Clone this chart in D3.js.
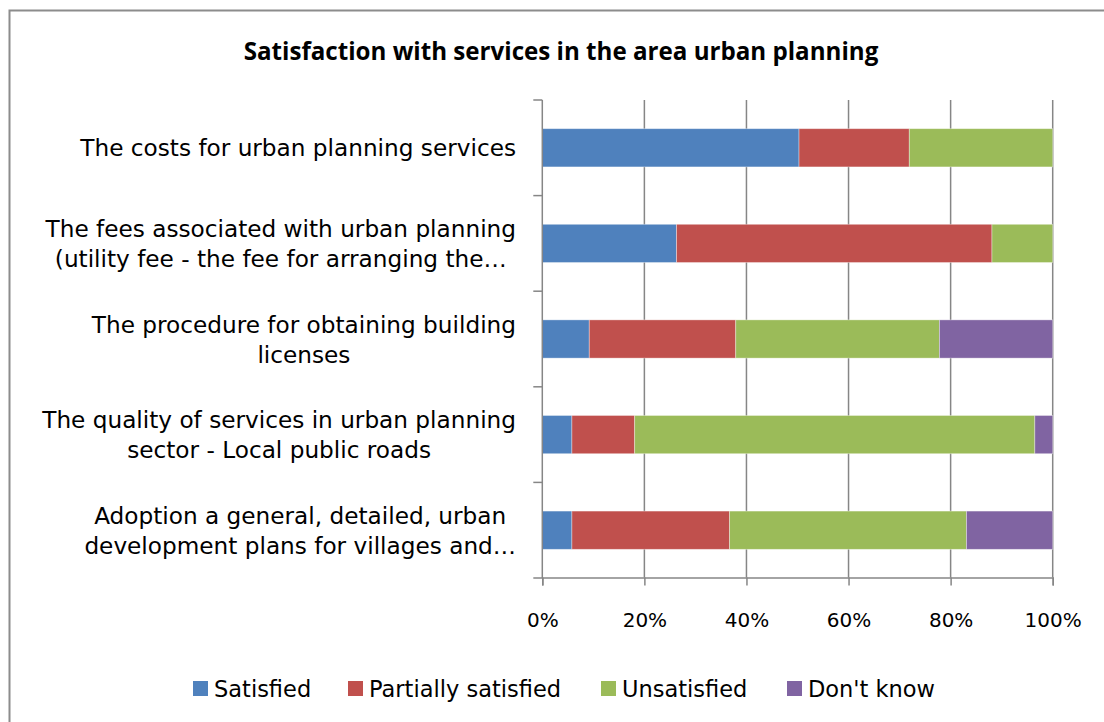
<!DOCTYPE html>
<html>
<head>
<meta charset="utf-8">
<script src="https://cdn.jsdelivr.net/npm/d3@7/dist/d3.min.js"></script>
<style>
  html, body { margin: 0; padding: 0; background: #fff; }
  svg { display: block; }
</style>
</head>
<body>
<svg id="chart" width="1104" height="722"></svg>
<script>
const title = "Satisfaction with services in the area urban planning";
const categories = [
  "The costs for urban planning services",
  "The fees associated with urban planning\n(utility fee - the fee for arranging the…",
  "The procedure for obtaining building\nlicenses",
  "The quality of services in urban planning\nsector - Local public roads",
  "Adoption a general, detailed, urban\ndevelopment plans for villages and…"
];
const seriesNames = ["Satisfied", "Partially satisfied", "Unsatisfied", "Don't know"];
const seriesColors = ["#4F81BD", "#C0504D", "#9BBB59", "#8064A2"];
const satisfied   = [50.3, 26.3, 9.2, 5.8, 5.8];
const partially   = [21.6, 61.8, 28.7, 12.3, 30.9];
const unsatisfied = [28.1, 11.9, 39.9, 78.4, 46.4];
const dontKnow    = [0, 0, 22.2, 3.5, 16.9];
const xTicks = [0, 20, 40, 60, 80, 100];
const xTickLabels = ["0%", "20%", "40%", "60%", "80%", "100%"];

const svg = d3.select("#chart");
const axisColor = "#868686";
const font = "'DejaVu Sans', Verdana, sans-serif";

// outer frame
svg.append("rect")
  .attr("x", 9.5).attr("y", 10.5).attr("width", 1200).attr("height", 800)
  .attr("fill", "none").attr("stroke", "#8c8c8c").attr("stroke-width", 2);

const x = d3.scaleLinear().domain([0, 100]).range([542.3, 1052.7]);
const y = d3.scaleBand().domain(categories).range([100, 578]).paddingInner(0.6).paddingOuter(0.3);

// title
const t = svg.append("text")
  .attr("x", 561).attr("y", 60)
  .attr("text-anchor", "middle")
  .attr("font-family", "'Liberation Sans Narrow', 'Open Sans', sans-serif")
  .attr("font-weight", "bold")
  .attr("font-size", 22)
  .attr("fill", "#000")
  .text(title);
{
  const w = t.node().getComputedTextLength();
  t.attr("font-size", 22 * 635 / w);
}

// gridlines
svg.append("g").selectAll("line")
  .data(xTicks.filter(d => d > 0))
  .join("line")
  .attr("x1", d => x(d)).attr("x2", d => x(d))
  .attr("y1", 100).attr("y2", 577.5)
  .attr("stroke", axisColor).attr("stroke-width", 1.5);

// stacked data
const rows = categories.map((c, i) => ({
  cat: c,
  "Satisfied": satisfied[i],
  "Partially satisfied": partially[i],
  "Unsatisfied": unsatisfied[i],
  "Don't know": dontKnow[i]
}));
const stacked = d3.stack().keys(seriesNames)(rows);

svg.append("g").selectAll("g")
  .data(stacked)
  .join("g")
  .attr("fill", (d, i) => seriesColors[i])
  .selectAll("rect")
  .data(d => d.filter(p => p[1] - p[0] > 0))
  .join("rect")
  .attr("x", d => x(d[0]))
  .attr("width", d => x(d[1]) - x(d[0]))
  .attr("y", d => y(d.data.cat))
  .attr("height", y.bandwidth())
  .attr("stroke", "rgba(255,255,255,0.45)")
  .attr("stroke-width", 0.8);

// y axis
const yAxis = svg.append("g").attr("stroke", axisColor).attr("stroke-width", 1.5);
yAxis.append("line").attr("x1", x(0)).attr("x2", x(0)).attr("y1", 100).attr("y2", 578);
const bounds = categories.map(c => y(c) - y.step() * y.paddingInner() / 2).concat([578]);
bounds[0] = 100;
yAxis.selectAll("line.tk").data(bounds).join("line").attr("class", "tk")
  .attr("x1", x(0) - 9).attr("x2", x(0)).attr("y1", d => d).attr("y2", d => d);

// x axis
const xAxisG = svg.append("g").attr("transform", "translate(0,577.5)")
  .call(d3.axisBottom(x).tickValues(xTicks).tickFormat((d, i) => xTickLabels[i]).tickSize(8).tickPadding(35));
xAxisG.select(".domain").attr("stroke", axisColor).attr("stroke-width", 1.5);
xAxisG.selectAll(".tick line").attr("stroke", axisColor).attr("stroke-width", 1.5);
xAxisG.selectAll(".tick text").attr("font-family", font).attr("font-size", 20).attr("fill", "#000")
  .attr("dy", "0.32em");

// category labels
const labG = svg.append("g").attr("font-family", font).attr("font-size", 23.2).attr("fill", "#000");
categories.forEach(c => {
  const lines = c.split("\n");
  const txt = labG.append("text").attr("text-anchor", "middle");
  const cy = y(c) + y.bandwidth() / 2;
  lines.forEach((ln, i) => {
    txt.append("tspan").attr("x", 0)
      .attr("y", cy + 8.5 + (i - (lines.length - 1) / 2) * 30)
      .text(ln);
  });
  let maxW = 0;
  txt.selectAll("tspan").each(function() { maxW = Math.max(maxW, this.getComputedTextLength()); });
  const cx = 516 - maxW / 2;
  txt.selectAll("tspan").attr("x", cx);
});

// legend
const legendX = [193, 348, 601, 787];
const lg = svg.append("g").attr("font-family", font).attr("font-size", 22.5);
seriesNames.forEach((s, i) => {
  lg.append("rect").attr("x", legendX[i]).attr("y", 681).attr("width", 15).attr("height", 15)
    .attr("fill", seriesColors[i]);
  lg.append("text").attr("x", legendX[i] + 21).attr("y", 697).attr("fill", "#000").text(s);
});
</script>
</body>
</html>
